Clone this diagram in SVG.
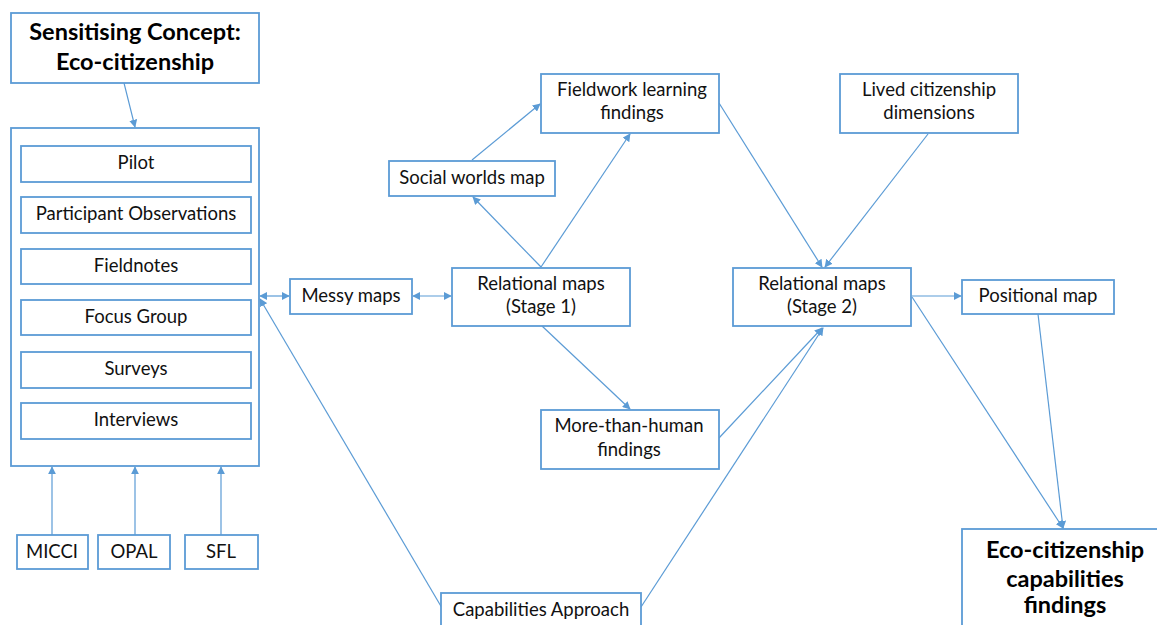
<svg xmlns="http://www.w3.org/2000/svg" width="1157" height="625" viewBox="0 0 1157 625">
  <style>
    .box { fill: #ffffff; stroke: #5b9bd5; stroke-width: 1.8; }
    .t { font-family: Lato, "Liberation Sans", sans-serif; font-size: 18.5px; fill: #111111; text-anchor: middle; }
    .tb { font-family: Lato, "Liberation Sans", sans-serif; font-size: 23.5px; font-weight: bold; fill: #000000; text-anchor: middle; }
    .edge { fill: none; stroke: #5b9bd5; stroke-width: 1.2; }
  </style>
  <defs>
    <marker id="arrow" viewBox="0 0 10 10" refX="9" refY="5" markerWidth="8" markerHeight="8" markerUnits="userSpaceOnUse" orient="auto-start-reverse">
      <path d="M0,0 L10,5 L0,10 z" fill="#5b9bd5"/>
    </marker>
  </defs>

  <rect width="1157" height="625" fill="#ffffff"/>

  <!-- connectors -->
  <g id="connectors">
    <line class="edge" x1="124" y1="83" x2="135" y2="127" marker-end="url(#arrow)"/>
    <line class="edge" x1="52" y1="535" x2="52" y2="467" marker-end="url(#arrow)"/>
    <line class="edge" x1="135" y1="535" x2="135" y2="467" marker-end="url(#arrow)"/>
    <line class="edge" x1="221" y1="535" x2="221" y2="467" marker-end="url(#arrow)"/>
    <line class="edge" x1="260" y1="296" x2="289" y2="296" marker-start="url(#arrow)" marker-end="url(#arrow)"/>
    <line class="edge" x1="413" y1="296" x2="451" y2="296" marker-start="url(#arrow)" marker-end="url(#arrow)"/>
    <line class="edge" x1="442" y1="608" x2="260" y2="299" marker-end="url(#arrow)"/>
    <line class="edge" x1="541" y1="267" x2="473" y2="197" marker-end="url(#arrow)"/>
    <line class="edge" x1="541" y1="267" x2="630" y2="134" marker-end="url(#arrow)"/>
    <line class="edge" x1="472" y1="160" x2="540" y2="104" marker-end="url(#arrow)"/>
    <line class="edge" x1="542" y1="326" x2="630" y2="409" marker-end="url(#arrow)"/>
    <line class="edge" x1="719" y1="438" x2="822" y2="328" marker-end="url(#arrow)"/>
    <line class="edge" x1="641" y1="607" x2="823" y2="328" marker-end="url(#arrow)"/>
    <line class="edge" x1="719" y1="103" x2="822" y2="267" marker-end="url(#arrow)"/>
    <line class="edge" x1="928" y1="134" x2="825" y2="267" marker-end="url(#arrow)"/>
    <line class="edge" x1="912" y1="296" x2="961" y2="296" marker-end="url(#arrow)"/>
    <line class="edge" x1="912" y1="297" x2="1063" y2="528" marker-end="url(#arrow)"/>
    <line class="edge" x1="1038" y1="314" x2="1063" y2="528" marker-end="url(#arrow)"/>
  </g>

  <!-- sensitising concept -->
  <g id="sensitising-concept">
    <rect class="box" x="11" y="13" width="248" height="70"/>
    <text class="tb" x="135" y="40">Sensitising Concept:</text>
    <text class="tb" x="135" y="70">Eco-citizenship</text>
  </g>

  <!-- methods container -->
  <g id="methods">
    <rect class="box" x="11" y="128" width="248" height="338"/>
    <g id="pilot">
      <rect class="box" x="21" y="146" width="230" height="36"/>
      <text class="t" x="136" y="169">Pilot</text>
    </g>
    <g id="participant-observations">
      <rect class="box" x="21" y="197" width="230" height="36"/>
      <text class="t" x="136" y="220">Participant Observations</text>
    </g>
    <g id="fieldnotes">
      <rect class="box" x="21" y="249" width="230" height="35"/>
      <text class="t" x="136" y="272">Fieldnotes</text>
    </g>
    <g id="focus-group">
      <rect class="box" x="21" y="300" width="230" height="35"/>
      <text class="t" x="136" y="323">Focus Group</text>
    </g>
    <g id="surveys">
      <rect class="box" x="21" y="352" width="230" height="36"/>
      <text class="t" x="136" y="375">Surveys</text>
    </g>
    <g id="interviews">
      <rect class="box" x="21" y="403" width="230" height="36"/>
      <text class="t" x="136" y="426">Interviews</text>
    </g>
  </g>

  <g id="micci">
    <rect class="box" x="17" y="535" width="71" height="34"/>
    <text class="t" x="52" y="558">MICCI</text>
  </g>
  <g id="opal">
    <rect class="box" x="98" y="535" width="72" height="34"/>
    <text class="t" x="134" y="558">OPAL</text>
  </g>
  <g id="sfl">
    <rect class="box" x="185" y="535" width="73" height="34"/>
    <text class="t" x="221" y="558">SFL</text>
  </g>

  <g id="messy-maps">
    <rect class="box" x="290" y="279" width="122" height="35"/>
    <text class="t" x="351" y="302">Messy maps</text>
  </g>

  <g id="relational-maps-1">
    <rect class="box" x="452" y="268" width="178" height="58"/>
    <text class="t" x="541" y="290">Relational maps</text>
    <text class="t" x="541" y="313">(Stage 1)</text>
  </g>

  <g id="social-worlds-map">
    <rect class="box" x="389" y="161" width="166" height="35"/>
    <text class="t" x="472" y="184">Social worlds map</text>
  </g>

  <g id="fieldwork-learning">
    <rect class="box" x="541" y="74" width="178" height="59"/>
    <text class="t" x="632" y="96">Fieldwork learning</text>
    <text class="t" x="632" y="119">findings</text>
  </g>

  <g id="more-than-human">
    <rect class="box" x="541" y="410" width="178" height="59"/>
    <text class="t" x="629" y="432">More-than-human</text>
    <text class="t" x="629" y="456">findings</text>
  </g>

  <g id="capabilities-approach">
    <rect class="box" x="441" y="593" width="200" height="40"/>
    <text class="t" x="541" y="616">Capabilities Approach</text>
  </g>

  <g id="lived-citizenship">
    <rect class="box" x="840" y="74" width="178" height="59"/>
    <text class="t" x="929" y="96">Lived citizenship</text>
    <text class="t" x="929" y="119">dimensions</text>
  </g>

  <g id="relational-maps-2">
    <rect class="box" x="733" y="268" width="178" height="58"/>
    <text class="t" x="822" y="290">Relational maps</text>
    <text class="t" x="822" y="313">(Stage 2)</text>
  </g>

  <g id="positional-map">
    <rect class="box" x="962" y="280" width="152" height="34"/>
    <text class="t" x="1038" y="302">Positional map</text>
  </g>

  <g id="eco-citizenship-findings">
    <rect class="box" x="962" y="529" width="210" height="110"/>
    <text class="tb" x="1065" y="558">Eco-citizenship</text>
    <text class="tb" x="1065" y="587">capabilities</text>
    <text class="tb" x="1065" y="613">findings</text>
  </g>
</svg>
